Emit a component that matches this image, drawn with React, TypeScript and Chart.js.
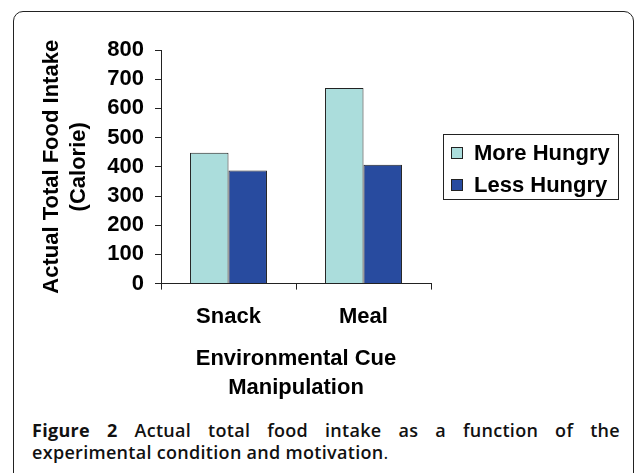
import React, { useEffect, useRef } from 'react';
import { Chart, registerables } from 'chart.js';

Chart.register(...registerables);

const categories = ['Snack', 'Meal'];
const seriesNames = ['More Hungry', 'Less Hungry'];
const moreHungry = [448, 670];
const lessHungry = [387, 407];
const yMin = 0;
const yMax = 800;
const yStep = 100;
const yTitle = ['Actual Total Food Intake', '(Calorie)'];
const xTitle = ['Environmental Cue', 'Manipulation'];
const seriesColors = ['#abdddc', '#284b9f'];

const FONT = '"Liberation Sans", Arial, sans-serif';
const FS = 22;

const boxedLegend = {
  id: 'boxedLegend',
  afterDraw(chart: any) {
    const ctx = chart.ctx;
    const ds = chart.data.datasets;
    ctx.save();
    ctx.strokeStyle = '#222';
    ctx.lineWidth = 1;
    ctx.strokeRect(443.5, 134.5, 175, 65);
    ctx.font = 'bold ' + FS + 'px ' + FONT;
    ctx.textBaseline = 'middle';
    ctx.textAlign = 'left';
    ds.forEach((d: any, i: number) => {
      const cy = 153 + i * 32;
      ctx.fillStyle = d.backgroundColor;
      ctx.fillRect(451, cy - 6, 12, 12);
      ctx.strokeStyle = '#222';
      ctx.strokeRect(451.5, cy - 5.5, 11, 11);
      ctx.fillStyle = '#000';
      ctx.fillText(d.label, 474, cy + 1);
    });
    ctx.restore();
  },
};

function BarChart() {
  const ref = useRef<HTMLCanvasElement | null>(null);
  useEffect(() => {
    if (!ref.current) return;
    const chart = new Chart(ref.current, {
      type: 'bar',
      data: {
        labels: categories,
        datasets: [
          {
            label: seriesNames[0],
            data: moreHungry,
            backgroundColor: seriesColors[0],
            borderColor: '#222',
            borderWidth: 1,
          },
          {
            label: seriesNames[1],
            data: lessHungry,
            backgroundColor: seriesColors[1],
            borderColor: '#222',
            borderWidth: 1,
          },
        ],
      },
      options: {
        responsive: false,
        animation: false,
        devicePixelRatio: 1,
        layout: { padding: { left: 0, right: 204, top: 50, bottom: 0 } },
        datasets: { bar: { categoryPercentage: 0.57, barPercentage: 1.0 } },
        plugins: { legend: { display: false }, tooltip: { enabled: false } },
        scales: {
          x: {
            grid: { display: true, drawOnChartArea: false, tickLength: 6, color: '#222', offset: true },
            border: { display: true, color: '#222', width: 1 },
            ticks: { color: '#000', font: { family: FONT, size: FS, weight: 'bold' }, padding: 14 },
            title: {
              display: true,
              text: xTitle,
              color: '#000',
              font: { family: FONT, size: FS, weight: 'bold', lineHeight: 29 / FS },
              padding: { top: 0, bottom: 0 },
            },
          },
          y: {
            min: yMin,
            max: yMax,
            afterFit: (scale: any) => {
              scale.width = 161;
            },
            grid: { display: true, drawOnChartArea: false, tickLength: 6, color: '#222' },
            border: { display: true, color: '#222', width: 1 },
            ticks: {
              stepSize: yStep,
              autoSkip: false,
              color: '#000',
              font: { family: FONT, size: FS, weight: 'bold' },
              padding: 11,
            },
            title: {
              display: true,
              text: yTitle,
              color: '#000',
              font: { family: FONT, size: FS, weight: 'bold', lineHeight: 27 / FS },
              padding: { top: 38, bottom: 0 },
            },
          },
        },
      },
      plugins: [boxedLegend],
    } as any);
    return () => chart.destroy();
  }, []);
  return (
    <canvas
      ref={ref}
      width={635}
      height={402}
      style={{ position: 'absolute', left: 0, top: 0, width: 635, height: 402 }}
    />
  );
}

export default function App() {
  const captionFont = '"Open Sans", "Noto Sans", sans-serif';
  return (
    <div
      style={{
        position: 'absolute',
        left: 0,
        top: 0,
        width: 635,
        height: 473,
        overflow: 'hidden',
        background: '#fff',
      }}
    >
      <div
        style={{
          position: 'absolute',
          left: 13,
          top: 11,
          width: 621,
          height: 520,
          border: '1.5px solid #222',
          borderRadius: 10,
          boxSizing: 'border-box',
        }}
      />
      <BarChart />
      <div
        style={{
          position: 'absolute',
          left: 32,
          top: 419,
          width: 588,
          fontFamily: captionFont,
          fontSize: 18,
          lineHeight: '22px',
          color: '#111',
          letterSpacing: 0.3,
          fontWeight: 600,
        }}
      >
        <div style={{ textAlign: 'justify', textAlignLast: 'justify', whiteSpace: 'nowrap' as any }}>
          <span style={{ fontWeight: 700 }}>Figure 2</span> Actual total food intake as a function of the
        </div>
        <div style={{ textAlign: 'left' }}>
          experimental condition and motivation<span style={{ fontWeight: 400 }}>.</span>
        </div>
      </div>
    </div>
  );
}
